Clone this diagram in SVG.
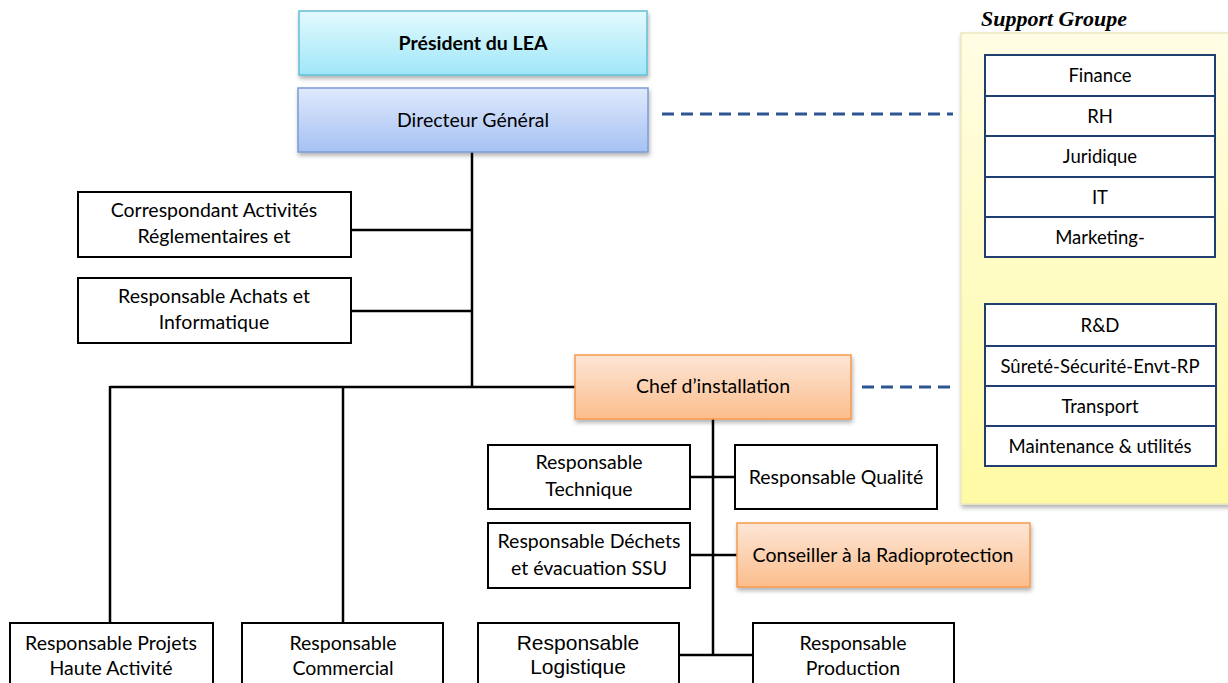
<svg xmlns="http://www.w3.org/2000/svg" width="1228" height="683" viewBox="0 0 1228 683">
<defs>
<linearGradient id="gPres" x1="0" y1="0" x2="0" y2="1"><stop offset="0" stop-color="#e4fafe"/><stop offset="1" stop-color="#9fe6f8"/></linearGradient>
<linearGradient id="gDG" x1="0" y1="0" x2="0" y2="1"><stop offset="0" stop-color="#e0e9fc"/><stop offset="1" stop-color="#a5c1f3"/></linearGradient>
<linearGradient id="gOr" x1="0" y1="0" x2="0" y2="1"><stop offset="0" stop-color="#fde6d6"/><stop offset="1" stop-color="#fbbd8c"/></linearGradient>
<linearGradient id="gPanel" x1="0" y1="0" x2="0" y2="1"><stop offset="0" stop-color="#fffde4"/><stop offset="1" stop-color="#fffaa4"/></linearGradient>
<filter id="sh" x="-10%" y="-10%" width="120%" height="130%"><feDropShadow dx="1" dy="3" stdDeviation="2" flood-color="#000" flood-opacity="0.3"/></filter>
</defs>
<style>
text{font-family:Lato,"Noto Sans",sans-serif;font-size:19.5px;fill:#000;text-anchor:middle}
.bx{fill:#fff;stroke:#000;stroke-width:2}
.sg{fill:#fff;stroke:#203f70;stroke-width:2}
.sgt{font-size:18.5px}
.ar{font-family:"Liberation Sans",Arial,sans-serif;font-size:21px}
.ln{fill:none;stroke:#000;stroke-width:2.5}
.ds{fill:none;stroke:#2d5591;stroke-width:3;stroke-dasharray:12 7}
</style>
<g id="support-groupe">
<rect x="961" y="33" width="275" height="471" fill="url(#gPanel)" stroke="#ece8c0" stroke-width="1.5" filter="url(#sh)"/>
<text x="1054" y="26" style="font-family:'Liberation Serif',serif;font-weight:bold;font-style:italic;font-size:22px">Support Groupe</text>
</g>
<g id="sg-finance"><rect class="sg" x="985" y="55" width="230" height="41"/><text class="sgt" x="1100" y="82">Finance</text></g>
<g id="sg-rh"><rect class="sg" x="985" y="96" width="230" height="40"/><text class="sgt" x="1100" y="123">RH</text></g>
<g id="sg-juridique"><rect class="sg" x="985" y="136" width="230" height="41"/><text class="sgt" x="1100" y="163">Juridique</text></g>
<g id="sg-it"><rect class="sg" x="985" y="177" width="230" height="40"/><text class="sgt" x="1100" y="204">IT</text></g>
<g id="sg-marketing"><rect class="sg" x="985" y="217" width="230" height="40"/><text class="sgt" x="1100" y="244">Marketing-</text></g>
<g id="sg-rd"><rect class="sg" x="985" y="304" width="231" height="42"/><text class="sgt" x="1100" y="332">R&amp;D</text></g>
<g id="sg-surete"><rect class="sg" x="985" y="346" width="231" height="40"/><text class="sgt" x="1100" y="373">Sûreté-Sécurité-Envt-RP</text></g>
<g id="sg-transport"><rect class="sg" x="985" y="386" width="231" height="40"/><text class="sgt" x="1100" y="413">Transport</text></g>
<g id="sg-maintenance"><rect class="sg" x="985" y="426" width="231" height="40"/><text class="sgt" x="1100" y="453">Maintenance &amp; utilités</text></g>
<g id="connectors">
<path class="ln" d="M472,152 V387 M110,387 H575 M110,386 V623 M343,386 V623 M351,230 H472 M351,311 H472 M713,419 V655 M690,477 H735 M690,555 H737 M679,655 H753"/>
<path class="ds" d="M662,114 H953 M862,387 H953"/>
</g>
<g id="president"><rect x="299" y="11" width="348" height="64" fill="url(#gPres)" stroke="#62bfd6" stroke-width="1.5" filter="url(#sh)"/><text x="473" y="50" style="font-weight:bold">Président du LEA</text></g>
<g id="directeur"><rect x="298" y="88" width="350" height="64" fill="url(#gDG)" stroke="#7b9cd6" stroke-width="1.5" filter="url(#sh)"/><text x="473" y="127">Directeur Général</text></g>
<g id="correspondant"><rect class="bx" x="78" y="192" width="273" height="65"/><text x="214" y="217">Correspondant Activités</text><text x="214" y="243">Réglementaires et</text></g>
<g id="achats"><rect class="bx" x="78" y="278" width="273" height="65"/><text x="214" y="303">Responsable Achats et</text><text x="214" y="329">Informatique</text></g>
<g id="chef"><rect x="575" y="355" width="276" height="64" fill="url(#gOr)" stroke="#f69a4c" stroke-width="1.5" filter="url(#sh)"/><text x="713" y="393">Chef d’installation</text></g>
<g id="technique"><rect class="bx" x="488" y="445" width="202" height="64"/><text x="589" y="469">Responsable</text><text x="589" y="496">Technique</text></g>
<g id="qualite"><rect class="bx" x="735" y="445" width="202" height="64"/><text x="836" y="484">Responsable Qualité</text></g>
<g id="dechets"><rect class="bx" x="488" y="523" width="202" height="65"/><text x="589" y="548">Responsable Déchets</text><text x="589" y="575">et évacuation SSU</text></g>
<g id="conseiller"><rect x="737" y="523" width="293" height="64" fill="url(#gOr)" stroke="#f69a4c" stroke-width="1.5" filter="url(#sh)"/><text x="883" y="562">Conseiller à la Radioprotection</text></g>
<g id="projets"><rect class="bx" x="10" y="623" width="203" height="70"/><text x="111" y="650">Responsable Projets</text><text x="111" y="675">Haute Activité</text></g>
<g id="commercial"><rect class="bx" x="242" y="623" width="201" height="70"/><text x="343" y="650">Responsable</text><text x="343" y="675">Commercial</text></g>
<g id="logistique"><rect class="bx" x="478" y="623" width="201" height="70"/><text class="ar" x="578" y="650">Responsable</text><text class="ar" x="578" y="674">Logistique</text></g>
<g id="production"><rect class="bx" x="753" y="623" width="201" height="70"/><text x="853" y="650">Responsable</text><text x="853" y="675">Production</text></g>
</svg>
